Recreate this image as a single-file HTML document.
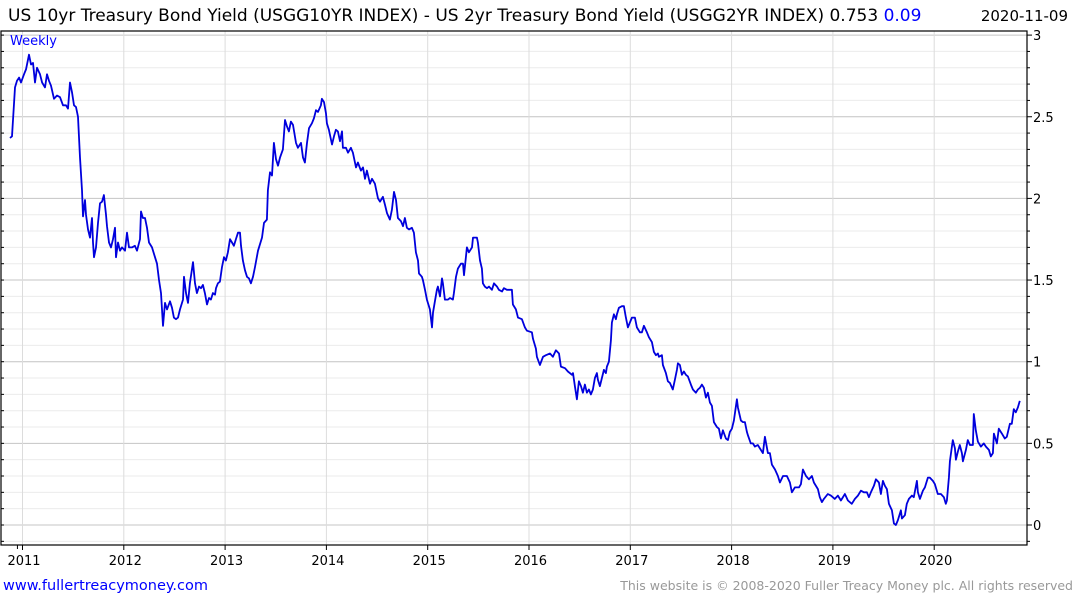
<!DOCTYPE html>
<html><head><meta charset="utf-8"><style>
html,body{margin:0;padding:0;background:#fff;}
svg{display:block;font-family:"DejaVu Sans","Liberation Sans",sans-serif;}
</style></head><body>
<svg id="chart" width="1075" height="600" viewBox="0 0 1075 600">
<text x="8" y="21" font-size="17" fill="#000">US 10yr Treasury Bond Yield (USGG10YR INDEX) - US 2yr Treasury Bond Yield (USGG2YR INDEX) 0.753 <tspan fill="#0000ff">0.09</tspan></text>
<text x="1068" y="21" font-size="15" fill="#000" text-anchor="end">2020-11-09</text>
<g id="grid"></g>
<g id="axes"></g>
<path id="line" fill="none" stroke="#0000dd" stroke-width="1.8" stroke-linejoin="round"/>
<text x="10" y="45" font-size="13" fill="#0000ff">Weekly</text>
<text x="3" y="590" font-size="14.5" fill="#0000ff">www.fullertreacymoney.com</text>
<text x="1073" y="590" font-size="12.5" fill="#999" text-anchor="end">This website is © 2008-2020 Fuller Treacy Money plc. All rights reserved</text>
</svg>
<script>
const yearTicks = [2011,2012,2013,2014,2015,2016,2017,2018,2019,2020];
const valueTicks = [0,0.5,1,1.5,2,2.5,3];
const valueTickLabels = ["0","0.5","1","1.5","2","2.5","3"];
const dates = [2010.877,2010.896,2010.906,2010.926,2010.946,2010.966,2010.985,2011.015,2011.035,2011.064,2011.084,2011.104,2011.123,2011.143,2011.173,2011.193,2011.222,2011.242,2011.262,2011.281,2011.311,2011.341,2011.370,2011.400,2011.429,2011.449,2011.469,2011.489,2011.508,2011.528,2011.548,2011.568,2011.587,2011.597,2011.617,2011.627,2011.647,2011.666,2011.686,2011.696,2011.706,2011.726,2011.745,2011.765,2011.785,2011.804,2011.824,2011.834,2011.854,2011.874,2011.893,2011.913,2011.923,2011.943,2011.962,2011.982,2012.012,2012.032,2012.051,2012.081,2012.110,2012.130,2012.160,2012.170,2012.189,2012.209,2012.229,2012.249,2012.278,2012.308,2012.328,2012.347,2012.367,2012.387,2012.407,2012.426,2012.456,2012.476,2012.495,2012.515,2012.535,2012.555,2012.584,2012.594,2012.614,2012.634,2012.653,2012.683,2012.703,2012.722,2012.742,2012.762,2012.781,2012.801,2012.821,2012.841,2012.860,2012.880,2012.900,2012.910,2012.929,2012.949,2012.969,2012.989,2013.008,2013.028,2013.048,2013.068,2013.087,2013.107,2013.127,2013.147,2013.157,2013.176,2013.196,2013.216,2013.236,2013.255,2013.275,2013.295,2013.325,2013.364,2013.384,2013.413,2013.423,2013.443,2013.463,2013.482,2013.502,2013.522,2013.542,2013.571,2013.591,2013.611,2013.630,2013.650,2013.670,2013.700,2013.719,2013.749,2013.769,2013.788,2013.808,2013.828,2013.857,2013.877,2013.897,2013.917,2013.946,2013.956,2013.976,2013.996,2014.005,2014.025,2014.055,2014.075,2014.094,2014.114,2014.134,2014.154,2014.163,2014.193,2014.213,2014.242,2014.262,2014.292,2014.311,2014.341,2014.361,2014.381,2014.400,2014.430,2014.450,2014.479,2014.509,2014.529,2014.558,2014.578,2014.598,2014.627,2014.647,2014.667,2014.687,2014.706,2014.736,2014.756,2014.775,2014.795,2014.815,2014.844,2014.864,2014.884,2014.904,2014.914,2014.943,2014.953,2014.973,2014.992,2015.002,2015.022,2015.042,2015.052,2015.071,2015.091,2015.101,2015.121,2015.141,2015.150,2015.170,2015.200,2015.220,2015.249,2015.259,2015.279,2015.298,2015.328,2015.348,2015.358,2015.377,2015.387,2015.407,2015.437,2015.447,2015.486,2015.496,2015.516,2015.535,2015.545,2015.565,2015.585,2015.605,2015.634,2015.654,2015.684,2015.703,2015.733,2015.752,2015.782,2015.831,2015.841,2015.871,2015.891,2015.930,2015.960,2015.979,2016.029,2016.039,2016.068,2016.078,2016.108,2016.138,2016.167,2016.207,2016.236,2016.266,2016.296,2016.315,2016.355,2016.384,2016.424,2016.434,2016.453,2016.473,2016.493,2016.513,2016.532,2016.552,2016.572,2016.591,2016.611,2016.631,2016.651,2016.670,2016.680,2016.700,2016.720,2016.739,2016.759,2016.769,2016.789,2016.808,2016.818,2016.838,2016.858,2016.868,2016.887,2016.917,2016.937,2016.957,2016.976,2016.996,2017.016,2017.045,2017.065,2017.095,2017.115,2017.134,2017.164,2017.184,2017.213,2017.233,2017.253,2017.272,2017.282,2017.312,2017.322,2017.351,2017.371,2017.391,2017.420,2017.440,2017.460,2017.470,2017.490,2017.509,2017.529,2017.549,2017.569,2017.598,2017.618,2017.648,2017.667,2017.687,2017.707,2017.727,2017.746,2017.766,2017.786,2017.806,2017.825,2017.855,2017.875,2017.894,2017.914,2017.944,2017.963,2017.983,2018.003,2018.023,2018.052,2018.062,2018.092,2018.111,2018.131,2018.151,2018.161,2018.190,2018.210,2018.230,2018.259,2018.309,2018.329,2018.358,2018.378,2018.398,2018.428,2018.457,2018.477,2018.507,2018.546,2018.576,2018.595,2018.625,2018.665,2018.684,2018.704,2018.734,2018.763,2018.793,2018.812,2018.852,2018.871,2018.891,2018.911,2018.950,2018.980,2019.019,2019.049,2019.079,2019.118,2019.148,2019.187,2019.217,2019.247,2019.276,2019.306,2019.336,2019.355,2019.375,2019.405,2019.424,2019.454,2019.474,2019.494,2019.513,2019.533,2019.553,2019.582,2019.602,2019.622,2019.642,2019.671,2019.681,2019.711,2019.730,2019.750,2019.780,2019.799,2019.829,2019.839,2019.859,2019.888,2019.908,2019.938,2019.957,2019.987,2020.007,2020.036,2020.066,2020.096,2020.115,2020.125,2020.145,2020.155,2020.175,2020.184,2020.204,2020.214,2020.234,2020.253,2020.273,2020.283,2020.313,2020.332,2020.352,2020.382,2020.391,2020.411,2020.431,2020.461,2020.490,2020.510,2020.540,2020.559,2020.579,2020.589,2020.619,2020.638,2020.668,2020.697,2020.717,2020.747,2020.766,2020.786,2020.806,2020.826,2020.845];
const values = [2.37,2.38,2.48,2.68,2.72,2.74,2.71,2.76,2.79,2.88,2.82,2.83,2.71,2.80,2.76,2.71,2.68,2.76,2.72,2.69,2.61,2.63,2.62,2.57,2.57,2.55,2.71,2.65,2.57,2.56,2.50,2.25,2.05,1.89,1.99,1.90,1.81,1.76,1.88,1.73,1.64,1.70,1.85,1.97,1.98,2.02,1.90,1.83,1.73,1.70,1.75,1.82,1.64,1.73,1.68,1.70,1.68,1.79,1.70,1.70,1.71,1.68,1.75,1.92,1.88,1.88,1.82,1.73,1.70,1.64,1.60,1.50,1.42,1.22,1.36,1.32,1.37,1.33,1.27,1.26,1.27,1.32,1.38,1.52,1.42,1.36,1.48,1.61,1.48,1.42,1.46,1.45,1.47,1.42,1.35,1.39,1.38,1.42,1.41,1.45,1.48,1.49,1.58,1.64,1.62,1.67,1.75,1.73,1.71,1.75,1.79,1.79,1.71,1.62,1.56,1.52,1.51,1.48,1.52,1.58,1.68,1.76,1.85,1.87,2.05,2.16,2.14,2.34,2.24,2.20,2.25,2.30,2.48,2.44,2.41,2.47,2.45,2.34,2.31,2.34,2.25,2.22,2.34,2.43,2.46,2.49,2.54,2.53,2.57,2.61,2.59,2.52,2.46,2.42,2.33,2.38,2.42,2.41,2.35,2.41,2.31,2.31,2.28,2.31,2.28,2.19,2.22,2.17,2.19,2.12,2.17,2.09,2.12,2.09,2.00,1.98,2.01,1.96,1.91,1.87,1.93,2.04,1.99,1.88,1.86,1.83,1.88,1.82,1.81,1.82,1.79,1.67,1.62,1.54,1.52,1.50,1.44,1.38,1.36,1.32,1.21,1.30,1.37,1.44,1.46,1.40,1.51,1.48,1.38,1.38,1.39,1.38,1.42,1.52,1.57,1.60,1.60,1.53,1.64,1.70,1.67,1.70,1.76,1.76,1.73,1.62,1.57,1.48,1.46,1.45,1.46,1.44,1.48,1.46,1.44,1.43,1.45,1.44,1.44,1.35,1.32,1.27,1.26,1.21,1.19,1.18,1.14,1.08,1.03,0.98,1.03,1.04,1.05,1.03,1.07,1.05,0.97,0.96,0.94,0.92,0.93,0.85,0.77,0.88,0.85,0.81,0.86,0.81,0.83,0.80,0.83,0.90,0.93,0.89,0.85,0.90,0.95,0.93,0.97,1.00,1.13,1.24,1.29,1.26,1.29,1.33,1.34,1.34,1.27,1.21,1.24,1.27,1.27,1.21,1.18,1.18,1.22,1.18,1.15,1.12,1.06,1.04,1.05,1.03,1.04,0.98,0.93,0.88,0.87,0.83,0.89,0.95,0.99,0.98,0.92,0.94,0.92,0.91,0.86,0.83,0.81,0.83,0.84,0.86,0.84,0.78,0.81,0.75,0.73,0.63,0.60,0.59,0.53,0.58,0.53,0.52,0.57,0.59,0.64,0.77,0.72,0.64,0.63,0.63,0.57,0.55,0.50,0.50,0.48,0.49,0.44,0.54,0.44,0.44,0.37,0.34,0.30,0.26,0.30,0.30,0.26,0.20,0.23,0.23,0.25,0.34,0.30,0.28,0.30,0.26,0.22,0.17,0.14,0.16,0.19,0.18,0.16,0.18,0.15,0.19,0.15,0.13,0.16,0.18,0.21,0.20,0.20,0.17,0.20,0.24,0.28,0.26,0.19,0.27,0.24,0.22,0.13,0.09,0.01,0.00,0.03,0.09,0.04,0.06,0.13,0.16,0.18,0.17,0.27,0.20,0.16,0.21,0.23,0.29,0.29,0.27,0.25,0.19,0.19,0.17,0.13,0.15,0.29,0.39,0.48,0.52,0.47,0.40,0.45,0.49,0.44,0.39,0.46,0.52,0.49,0.49,0.68,0.58,0.51,0.48,0.50,0.48,0.46,0.42,0.44,0.56,0.50,0.59,0.56,0.53,0.54,0.62,0.62,0.71,0.69,0.72,0.76];

const NS = "http://www.w3.org/2000/svg";
const L = 1, T = 31, R = 1027, B = 545;
function xs(yr){ return 22.5 + (yr - 2011) * 101.3; }
function ys(v){ return 525 - v * 163.3; }
function mk(tag, attrs, parent){ const e = document.createElementNS(NS, tag); for (const k in attrs) e.setAttribute(k, attrs[k]); parent.appendChild(e); return e; }
const grid = document.getElementById('grid');
const axes = document.getElementById('axes');
for (let i = -1; i <= 30; i++) {
  const v = i / 10; const y = ys(v);
  if (y < T || y > B) continue;
  const major = (i % 5 === 0);
  const ln = mk('line', {x1:L, x2:R, y1:y, y2:y, stroke: major ? '#c4c4c4' : '#ebebeb', 'stroke-width':1}, grid);
  
  
  const tk = mk('line', {x1:R, x2:R + (major ? 5 : 3), y1:y, y2:y, stroke:'#000', 'stroke-width':1}, axes);
  
  
  const lt = mk('line', {x1:L, x2:L + 3, y1:y, y2:y, stroke:'#000', 'stroke-width':1}, axes);
  
  
}
yearTicks.forEach(function(yr){
  const x = xs(yr);
  const g = mk('line', {x1:x, x2:x, y1:T, y2:B, stroke:'#dcdcdc', 'stroke-width':1}, grid);
  
  
  const tk = mk('line', {x1:x, x2:x, y1:B, y2:B + 5, stroke:'#000', 'stroke-width':1}, axes);
  
  
  const t = mk('text', {x:x + 1.5, y:565, 'font-size':13, 'text-anchor':'middle', fill:'#000'}, axes);
  
  
  t.textContent = String(yr);
});
const tk0 = mk('line', {x1:xs(2010.95), x2:xs(2010.95), y1:B, y2:B + 4, stroke:'#000'}, axes);


valueTicks.forEach(function(v, i){
  const t = mk('text', {x:1033, y:ys(v) + 5, 'font-size':13, fill:'#000'}, axes);
  
  
  t.textContent = valueTickLabels[i];
});
const frame = mk('rect', {x:L, y:T, width:R - L, height:B - T, fill:'none', stroke:'#000', 'stroke-width':1.2}, axes);


let d = '';
for (let i = 0; i < values.length; i++) {
  d += (i ? 'L' : 'M') + xs(dates[i]).toFixed(1) + ' ' + ys(values[i]).toFixed(1);
}
document.getElementById('line').setAttribute('d', d);
</script>
</body></html>
